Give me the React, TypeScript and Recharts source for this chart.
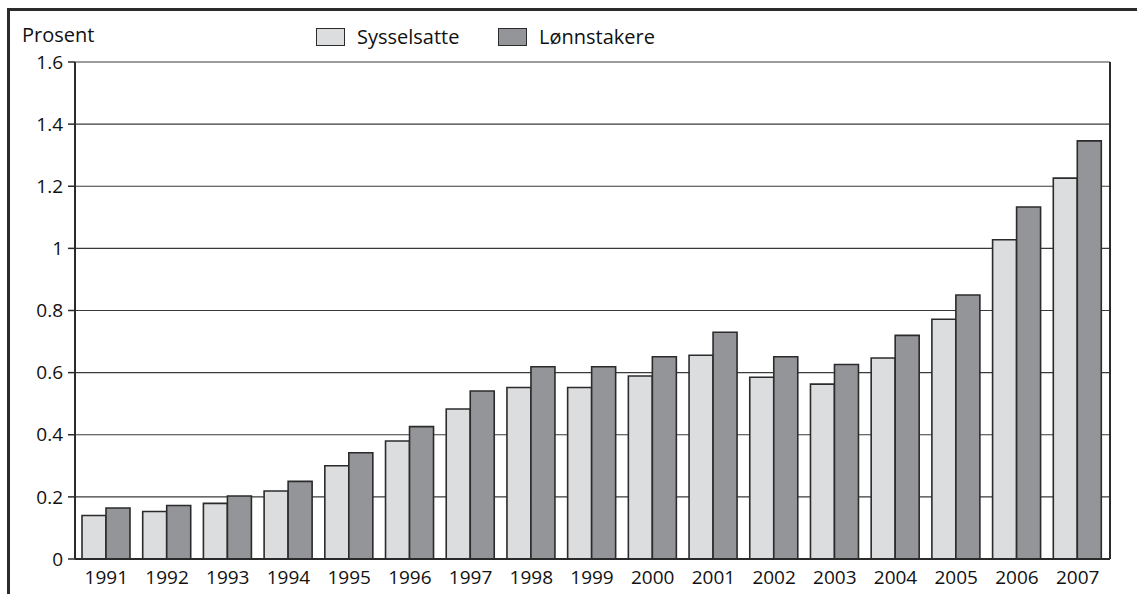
import React from 'react';
import { BarChart, Bar, XAxis, YAxis, CartesianGrid } from 'recharts';

const years = ['1991', '1992', '1993', '1994', '1995', '1996', '1997', '1998', '1999', '2000', '2001', '2002', '2003', '2004', '2005', '2006', '2007'];
const sysselsatte = [0.14, 0.153, 0.179, 0.219, 0.3, 0.38, 0.483, 0.552, 0.552, 0.589, 0.656, 0.585, 0.563, 0.647, 0.772, 1.028, 1.226];
const lonnstakere = [0.164, 0.172, 0.203, 0.25, 0.342, 0.426, 0.541, 0.619, 0.619, 0.651, 0.73, 0.651, 0.626, 0.72, 0.85, 1.133, 1.346];
const yTicks = [0, 0.2, 0.4, 0.6, 0.8, 1, 1.2, 1.4, 1.6];

const data = years.map((year, i) => ({
  year,
  sysselsatte: sysselsatte[i],
  lonnstakere: lonnstakere[i],
}));

const FONT = '"Open Sans", "Noto Sans", sans-serif';
const INK = '#2b2b2b';
const TEXT = '#111';
const LIGHT = '#dcdddf';
const DARK = '#939598';

const LegendItem = ({ left, color, label }: { left: number; color: string; label: string }) => (
  <div style={{ position: 'absolute', left, top: 27, display: 'flex', alignItems: 'center' }}>
    <div style={{ width: 27, height: 16, background: color, border: `1.5px solid ${INK}` }} />
    <span style={{ marginLeft: 12, fontSize: 20, lineHeight: '20px', color: TEXT }}>{label}</span>
  </div>
);

export default function App() {
  return (
    <div style={{ position: 'absolute', left: 0, top: 0, width: 1137, height: 594, background: '#fff', fontFamily: FONT }}>
      {/* outer frame, only top and left visible */}
      <div style={{ position: 'absolute', left: 7, top: 8, right: 0, height: 3, background: INK }} />
      <div style={{ position: 'absolute', left: 7, top: 8, width: 3, bottom: 0, background: INK }} />

      <div style={{ position: 'absolute', left: 22, top: 25, fontSize: 20, lineHeight: '20px', color: TEXT }}>Prosent</div>
      <LegendItem left={316} color={LIGHT} label="Sysselsatte" />
      <LegendItem left={498} color={DARK} label="Lønnstakere" />

      <BarChart
        width={1137}
        height={594}
        data={data}
        margin={{ top: 62, right: 0, bottom: 0, left: 0 }}
        barGap={0}
        barSize={24}
      >
        <CartesianGrid vertical={false} stroke="#3a3a3a" strokeWidth={1.2} />
        <XAxis
          dataKey="year"
          height={35}
          padding={{ left: 1, right: 2 }}
          tickLine={false}
          tickMargin={6}
          axisLine={{ stroke: INK, strokeWidth: 2 }}
          tick={{ fontSize: 19, fill: TEXT, fontFamily: FONT }}
          interval={0}
        />
        <YAxis
          width={75}
          domain={[0, 1.6]}
          ticks={yTicks}
          interval={0}
          tickSize={7}
          tickMargin={5}
          tickLine={{ stroke: INK, strokeWidth: 1.5 }}
          axisLine={{ stroke: INK, strokeWidth: 2 }}
          tick={{ fontSize: 19, fill: TEXT, fontFamily: FONT }}
        />
        <YAxis
          yAxisId="frame"
          orientation="right"
          width={27}
          domain={[0, 1.6]}
          tick={false}
          tickLine={false}
          axisLine={{ stroke: INK, strokeWidth: 2 }}
        />
        <Bar dataKey="sysselsatte" fill={LIGHT} stroke={INK} strokeWidth={1.6} isAnimationActive={false} />
        <Bar dataKey="lonnstakere" fill={DARK} stroke={INK} strokeWidth={1.6} isAnimationActive={false} />
      </BarChart>
    </div>
  );
}
